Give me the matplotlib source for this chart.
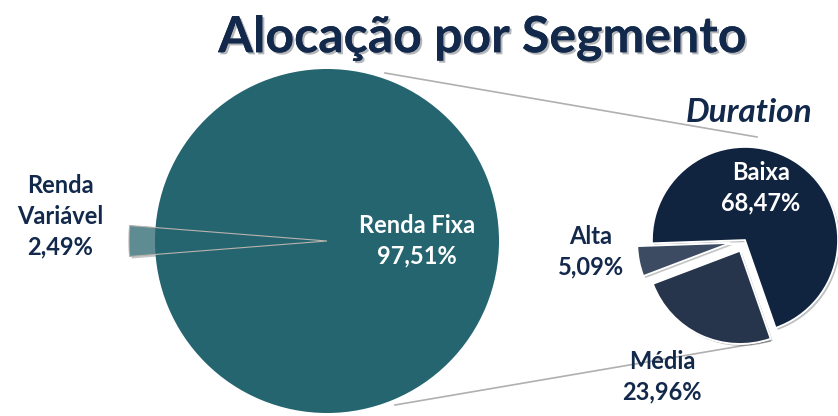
import numpy as np
import matplotlib
matplotlib.use("Agg")
import matplotlib.pyplot as plt
from matplotlib.patches import Wedge
import matplotlib.patheffects as pe

# data
segments = ["Renda Fixa", "Renda\nVariável"]
segment_pct = [97.51, 2.49]
duration = ["Baixa", "Média", "Alta"]
duration_pct = [68.47, 23.96, 5.09]

navy = "#13294b"
teal = "#246570"
teal_light = "#5f8b92"
duration_colors = ["#10233f", "#26344c", "#3c4b62"]

fig = plt.figure(figsize=(8.38, 4.16), dpi=100)
ax = fig.add_axes([0, 0, 1, 1])
ax.set_xlim(0, 838)
ax.set_ylim(0, 416)
ax.set_aspect("equal")
ax.axis("off")

shadow = [pe.withSimplePatchShadow(offset=(1.5, -1.5), alpha=0.25), pe.Normal()]

# main pie
c1 = (327, 175)
r1 = 172
rv_span = segment_pct[1] / sum(segment_pct) * 360
rv_theta1 = 180 - rv_span / 2
rv_theta2 = 180 + rv_span / 2

ax.add_patch(Wedge(c1, r1 + 26, rv_theta1, rv_theta2, facecolor=teal_light,
                   edgecolor="none", zorder=1, path_effects=shadow))
ax.add_patch(Wedge(c1, r1, 0, 360, facecolor=teal, edgecolor="none", zorder=2))
ax.add_patch(Wedge(c1, r1 + 26, rv_theta1, rv_theta2, facecolor="none",
                   edgecolor="#b9b3ad", linewidth=0.8, zorder=3))

# connector lines
ax.plot([385, 757], [343, 279], color="#b0b0b0", linewidth=1.2, zorder=0)
ax.plot([395, 770], [11, 75], color="#b0b0b0", linewidth=1.2, zorder=0)

# duration pie
c2 = np.array([745.0, 176.0])
r2 = 93
total = sum(duration_pct)
start = 182.0
angles = []
a = start
for v in duration_pct:
    span = v / total * 360
    angles.append((a - span, a))
    a -= span
explode = [0, 12, 15]
for (t1, t2), col, ex in zip(angles, duration_colors, explode):
    mid = np.deg2rad((t1 + t2) / 2)
    cen = c2 + ex * np.array([np.cos(mid), np.sin(mid)])
    ax.add_patch(Wedge(tuple(cen), r2, t1, t2, facecolor=col, edgecolor="white",
                       linewidth=1.2, zorder=4, path_effects=shadow))


def pct(v):
    return f"{v:.2f}%".replace(".", ",")


# texts
lab = dict(fontfamily="Lato", fontweight="bold", fontsize=17, ha="center",
           va="center", linespacing=1.4, zorder=6)
ax.text(417, 175, f"{segments[0]}\n{pct(segment_pct[0])}", color="white", **lab)
ax.text(60, 200, f"{segments[1]}\n{pct(segment_pct[1])}", color=navy, **lab)
ax.text(761, 228, f"{duration[0]}\n{pct(duration_pct[0])}", color="white", **lab)
ax.text(591, 164, f"{duration[2]}\n{pct(duration_pct[2])}", color=navy, **lab)
ax.text(662, 39, f"{duration[1]}\n{pct(duration_pct[1])}", color=navy, **lab)

ax.text(482, 378, "Alocação por Segmento", fontfamily="Lato", fontweight="bold",
        fontsize=36, color=navy, ha="center", va="center", zorder=6,
        path_effects=[pe.withSimplePatchShadow(offset=(1.5, -1.5), alpha=0.3), pe.Normal()])
ax.text(749, 304, "Duration", fontfamily="Lato", fontweight="bold", style="italic",
        fontsize=24, color=navy, ha="center", va="center", zorder=6)

fig.savefig("out.png", dpi=100)
